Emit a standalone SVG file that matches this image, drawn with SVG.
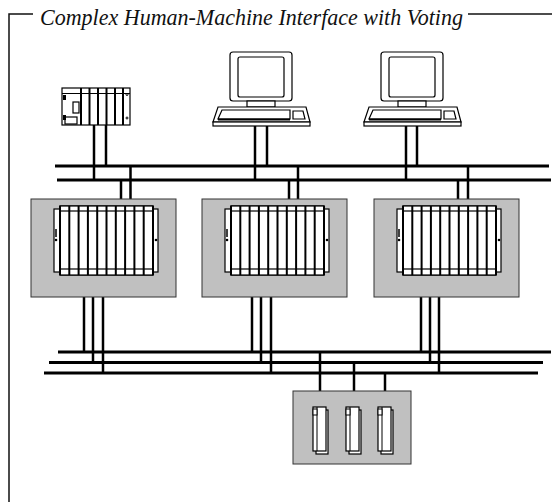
<svg xmlns="http://www.w3.org/2000/svg" width="552" height="502" viewBox="0 0 552 502">
  <style>
    .frame { fill: none; stroke: #111; stroke-width: 1.5; }
    .title { font-family: "Liberation Serif", "Times New Roman", serif; font-style: italic; font-size: 23px; fill: #111; }
    .bus { stroke: #000; stroke-width: 3; fill: none; }
    .wire { stroke: #000; stroke-width: 2.5; fill: none; }
    .panel { fill: #c0c0c0; stroke: #333; stroke-width: 1; }
    .ln { fill: #fff; stroke: #000; stroke-width: 1.2; }
    .thin { fill: none; stroke: #000; stroke-width: 1; }
    .slot { stroke: #000; stroke-width: 2; }
  </style>
  <defs>
    <!-- rack of ten I/O slots on a gray panel -->
    <g id="rack">
      <rect class="panel" x="0" y="0" width="145" height="98"/>
      <rect class="ln" x="23" y="10" width="104" height="63"/>
      <circle cx="25" cy="41" r="1.3" fill="#000"/>
      <circle cx="125" cy="41" r="1.3" fill="#000"/>
      <line x1="25" y1="30" x2="25" y2="38" stroke="#000" stroke-width="1.5"/>
      <rect class="ln" x="29" y="7" width="93" height="69"/>
      <rect class="ln" x="29" y="7" width="93" height="5"/>
      <rect class="ln" x="29" y="70" width="93" height="6"/>
      <g class="slot">
        <line x1="38.3" y1="7" x2="38.3" y2="76"/>
        <line x1="47.6" y1="7" x2="47.6" y2="76"/>
        <line x1="56.9" y1="7" x2="56.9" y2="76"/>
        <line x1="66.2" y1="7" x2="66.2" y2="76"/>
        <line x1="75.5" y1="7" x2="75.5" y2="76"/>
        <line x1="84.8" y1="7" x2="84.8" y2="76"/>
        <line x1="94.1" y1="7" x2="94.1" y2="76"/>
        <line x1="103.4" y1="7" x2="103.4" y2="76"/>
        <line x1="112.7" y1="7" x2="112.7" y2="76"/>
      </g>
      <line x1="29" y1="7" x2="29" y2="76" class="slot"/>
      <line x1="122" y1="7" x2="122" y2="76" class="slot"/>
    </g>
    <!-- operator workstation -->
    <g id="workstation">
      <rect class="ln" x="230" y="52" width="62" height="49" rx="3"/>
      <rect class="ln" x="238" y="57" width="46" height="40" rx="2"/>
      <rect class="ln" x="247" y="101" width="28" height="6"/>
      <path class="ln" d="M218 107 H306 L310 122 H213 Z" stroke-width="1.8"/>
      <rect class="ln" x="213" y="122" width="97" height="4" stroke-width="1.5"/>
      <path class="ln" d="M222 110 H290 V119 H218 Z" stroke-width="1"/>
      <line x1="218" y1="119.5" x2="290" y2="119.5" stroke="#000" stroke-width="2"/>
      <path class="ln" d="M293 111 H303 L305 119 H293 Z" stroke-width="1"/>
    </g>
    <!-- single I/O module -->
    <g id="module">
      <rect class="ln" x="3" y="3" width="12" height="44"/>
      <rect class="ln" x="0" y="0" width="13" height="44"/>
      <line class="thin" x1="4" y1="0" x2="4" y2="44"/>
      <rect x="0" y="2" width="4" height="6" fill="#fff" stroke="#000" stroke-width="1"/>
    </g>
  </defs>

  <!-- title frame -->
  <g id="frame">
    <path class="frame" d="M33 14 H9 V502"/>
    <line class="frame" x1="468" y1="14" x2="552" y2="14"/>
    <text class="title" x="40" y="25" textLength="423" lengthAdjust="spacingAndGlyphs">Complex Human-Machine Interface with Voting</text>
  </g>

  <!-- connectors: network buses and drop cables -->
  <g id="connectors">
    <line class="bus" x1="55" y1="166" x2="549" y2="166"/>
    <line class="bus" x1="57" y1="180" x2="551" y2="180"/>
    <line class="bus" x1="58" y1="352" x2="551" y2="352"/>
    <line class="bus" x1="49" y1="362.5" x2="543" y2="362.5"/>
    <line class="bus" x1="44" y1="373" x2="538" y2="373"/>

    <line class="wire" x1="94" y1="124" x2="94" y2="180"/>
    <line class="wire" x1="106" y1="124" x2="106" y2="166"/>
    <line class="wire" x1="255" y1="126" x2="255" y2="180"/>
    <line class="wire" x1="267" y1="126" x2="267" y2="166"/>
    <line class="wire" x1="406" y1="126" x2="406" y2="180"/>
    <line class="wire" x1="417" y1="126" x2="417" y2="166"/>

    <line class="wire" x1="121" y1="180" x2="121" y2="206"/>
    <line class="wire" x1="130.5" y1="166" x2="130.5" y2="206"/>
    <line class="wire" x1="289" y1="180" x2="289" y2="206"/>
    <line class="wire" x1="298" y1="166" x2="298" y2="206"/>
    <line class="wire" x1="458" y1="180" x2="458" y2="206"/>
    <line class="wire" x1="468" y1="166" x2="468" y2="206"/>

    <line class="wire" x1="84" y1="275" x2="84" y2="352"/>
    <line class="wire" x1="93" y1="275" x2="93" y2="362.5"/>
    <line class="wire" x1="103" y1="275" x2="103" y2="373"/>
    <line class="wire" x1="252" y1="275" x2="252" y2="352"/>
    <line class="wire" x1="261" y1="275" x2="261" y2="362.5"/>
    <line class="wire" x1="271" y1="275" x2="271" y2="373"/>
    <line class="wire" x1="421" y1="275" x2="421" y2="352"/>
    <line class="wire" x1="430" y1="275" x2="430" y2="362.5"/>
    <line class="wire" x1="439" y1="275" x2="439" y2="373"/>

    <line class="wire" x1="320" y1="352" x2="320" y2="407"/>
    <line class="wire" x1="354" y1="362.5" x2="354" y2="407"/>
    <line class="wire" x1="385" y1="373" x2="385" y2="407"/>
  </g>

  <!-- PLC -->
  <g id="plc">
    <rect class="ln" x="62" y="88" width="68" height="37" stroke-width="1.3"/>
    <line class="thin" x1="62" y1="93.5" x2="130" y2="93.5"/>
    <g class="slot" stroke-width="1.5">
      <line x1="81" y1="88" x2="81" y2="125"/>
      <line x1="89.5" y1="88" x2="89.5" y2="125"/>
      <line x1="98" y1="88" x2="98" y2="125"/>
      <line x1="106.5" y1="88" x2="106.5" y2="125"/>
      <line x1="115" y1="88" x2="115" y2="125"/>
      <line x1="123" y1="88" x2="123" y2="125"/>
    </g>
    <rect class="ln" x="73" y="102" width="6" height="11" stroke-width="1.5"/>
    <rect class="ln" x="65" y="117" width="12" height="7" stroke-width="1.2"/>
    <rect x="63" y="95" width="3" height="5" fill="#000"/>
    <rect x="63" y="115" width="3" height="5" fill="#000"/>
    <circle cx="127" cy="94.5" r="1" class="thin"/>
    <circle cx="127" cy="118" r="1" class="thin"/>
  </g>

  <!-- operator stations -->
  <g id="station1"><use href="#workstation"/></g>
  <g id="station2"><use href="#workstation" transform="translate(151,0)"/></g>

  <!-- voting controllers -->
  <g id="controller1"><use href="#rack" transform="translate(31,199)"/></g>
  <g id="controller2"><use href="#rack" transform="translate(202,199)"/></g>
  <g id="controller3"><use href="#rack" transform="translate(374,199)"/></g>

  <!-- I/O rack -->
  <g id="io">
    <rect class="panel" x="293" y="391" width="118" height="73"/>
    <use href="#module" transform="translate(313,407)"/>
    <use href="#module" transform="translate(346,407)"/>
    <use href="#module" transform="translate(378,407)"/>
  </g>
</svg>
